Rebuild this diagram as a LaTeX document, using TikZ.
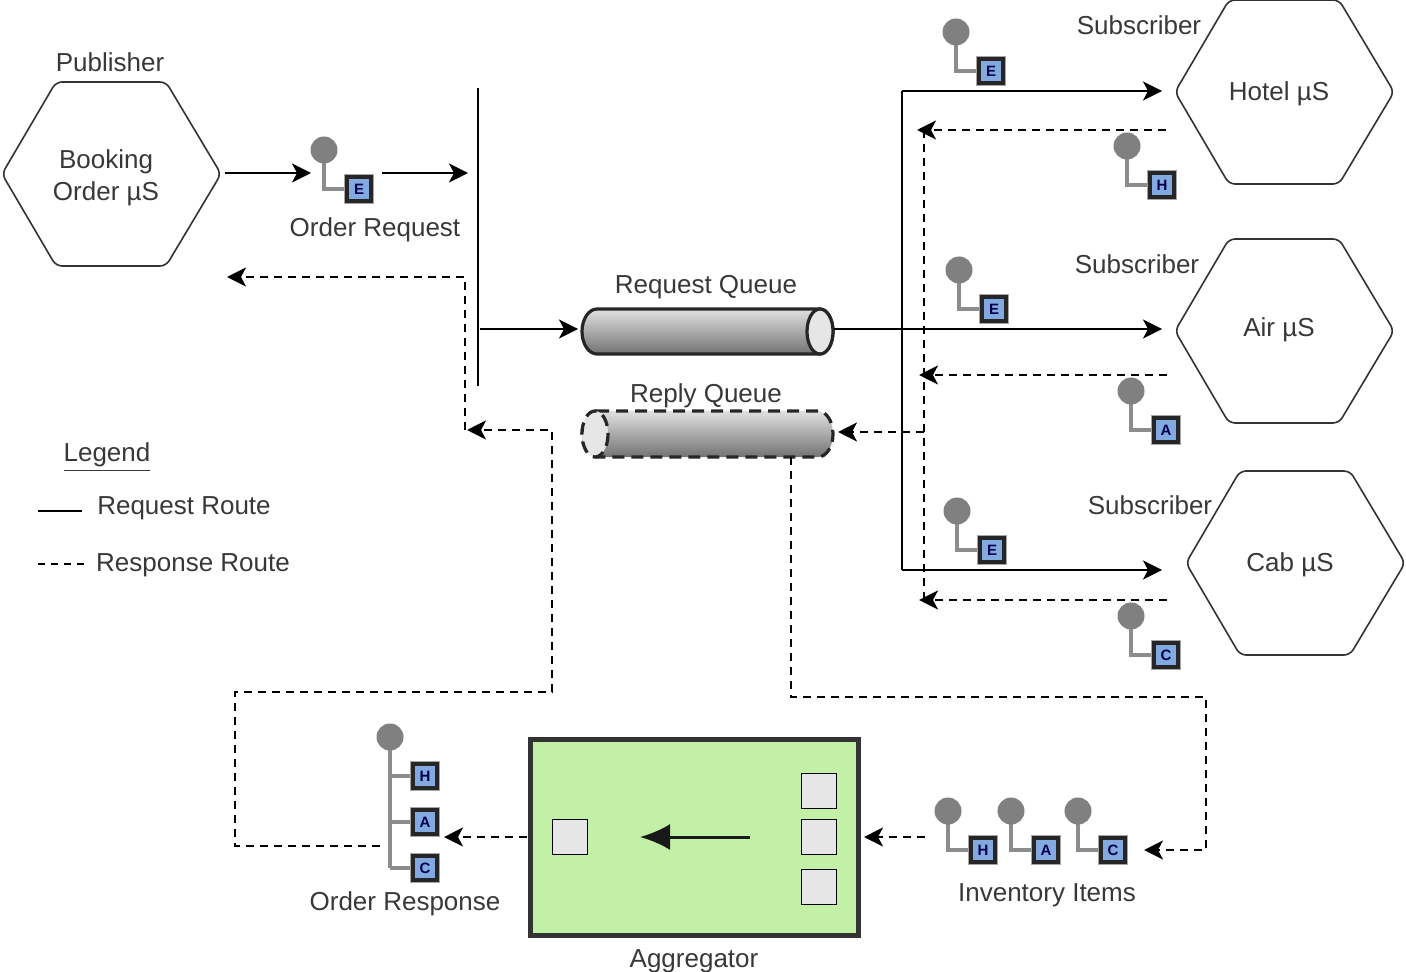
\documentclass[tikz,border=0pt]{standalone}
\usepackage{fontspec}
\setmainfont{Liberation Sans}
\usepackage{tikz}
\usetikzlibrary{arrows.meta}
\usepackage{xcolor}
\colorlet{mytext}{black!78}
\colorlet{myline}{black!85}
\colorlet{mygrey}{black!50}
\definecolor{myblue}{RGB}{130,170,225}
\definecolor{mygreen}{RGB}{193,240,166}
\definecolor{mylight}{RGB}{230,230,230}
\tikzset{
  >={Stealth[length=9.5pt,width=9.5pt,inset=2.5pt]},
  label/.style={text=mytext,font=\fontsize{13}{16}\selectfont,align=center,inner sep=0,yshift=-1.5pt},
  hexa/.style={draw=black!80,line width=0.8pt,fill=white,rounded corners=3pt},
  route/.style={draw=black,line width=0.9pt},
  route arrow/.style={route,->},
  reply/.style={draw=black,line width=0.7pt,dash pattern=on 4pt off 3pt},
  reply arrow/.style={reply,->},
  token dot/.style={circle,fill=mygrey,inner sep=0,minimum size=13.5pt},
  token box/.style={rectangle,draw=black!85,line width=1.7pt,fill=myblue,minimum size=12pt,inner sep=0,
    text=black!70!blue,font=\fontsize{7.5}{8}\bfseries\selectfont,
    preaction={draw=mygrey!70,line width=3pt}},
  token line/.style={draw=black!45,line width=1.7pt},
  slot/.style={rectangle,draw=black,line width=0.8pt,fill=mylight,minimum size=17.5pt,inner sep=0},
  spot/.style={rectangle,inner sep=0,minimum width=125pt,minimum height=23pt},
  queue/.style={line width=1.6pt,draw=black!85}
}
\begin{document}
\begin{tikzpicture}[x=0.5pt, y=-0.5pt]

\useasboundingbox (0,0) rectangle (1406,972);

% Hexagons
\foreach \x/\y in {111/174, 1284/92, 1284/331, 1295/563}
  \draw[hexa] (\x-109,\y) -- ++(54,-92) -- ++(110,0) -- ++(55,92) -- ++(-55,92) -- ++(-110,0) -- cycle;

\node[label] (booking) at (106,175) {Booking\\Order µS};
\node[label] (hotel) at (1279,91) {Hotel µS};
\node[label] (air) at (1279,327) {Air µS};
\node[label] (cab) at (1290,562) {Cab µS};
\node[label] (publisher) at (110,59) {Publisher};
\node[label] (subhotel) at (1139,22) {Subscriber};
\node[label] (subair) at (1137,261) {Subscriber};
\node[label] (subcab) at (1150,502) {Subscriber};

% Single tokens
\foreach \n/\x/\y/\l in {order/324/150/E, hoteli/956/32/E, hotelo/1127/146/H, airi/959/270/E,
  airo/1131/391/A, cabi/957/511/E, cabo/1131/616/C, invh/948/811/H, inva/1011/811/A, invc/1078/811/C}
{
  \draw[token line] (\x,\y) |- (\x+35,\y+39);
  \node[token dot] (dot-\n) at (\x,\y) {};
  \node[token box] (box-\n) at (\x+35,\y+39) {\l};
}

% Order response token
\draw[token line] (390,737) -- (390,868);
\foreach \n/\y/\l in {h/776/H, a/822/A, c/868/C}
{
  \draw[token line] (390,\y) -- (425,\y);
  \node[token box] (box-\n) at (425,\y) {\l};
}
\node[token dot] (dot-resp) at (390,737) {};

\node[label] (orderreq) at (375,227) {Order Request};
\node[label] (orderresp) at (405,901) {Order Response};
\node[label] (items) at (1047,892) {Inventory Items};

% Queues
\draw[queue,top color=black!12,bottom color=black!55]
  (597,309) -- (820,309) arc[start angle=-90,end angle=90,x radius=13,y radius=22.5]
  -- (597,354) arc[start angle=90,end angle=270,x radius=15,y radius=22.5] -- cycle;
\draw[queue,fill=mylight] (820,331.5) ellipse[x radius=13,y radius=22.5];
\node[spot] (reqq) at (707.5,331.5) {};

\draw[queue,dash pattern=on 6pt off 3.5pt,top color=black!12,bottom color=black!55]
  (597,411) -- (818,411) arc[start angle=-90,end angle=90,x radius=15,y radius=23]
  -- (597,457) arc[start angle=90,end angle=270,x radius=15,y radius=23] -- cycle;
\draw[queue,dash pattern=on 6pt off 3.5pt,fill=mylight] (595,434) ellipse[x radius=13,y radius=23];
\node[spot] (repq) at (707.5,434) {};

\node[label] at (706,284) {Request Queue};
\node[label] at (706,393) {Reply Queue};

% Aggregator
\node[rectangle,draw=black!80,line width=2.2pt,fill=mygreen,minimum width=164pt,minimum height=98pt,inner sep=0] (agg) at (694.5,837.5) {};
\node[slot] (slot-out) at (570,837) {};
\node[slot] (slot-a) at (819,791) {};
\node[slot] (slot-b) at (819,837) {};
\node[slot] (slot-c) at (819,887) {};
\coordinate (agg-from) at (750,837);
\coordinate (agg-to) at (640,837);
\draw[-{Latex[length=15pt,width=13pt]},line width=1.5pt,black!90] (agg-from) -- (agg-to);
\node[label] at (694,958) {Aggregator};

% Channel
\coordinate (top-ch) at (478,88);
\coordinate (bot-ch) at (478,386);
\draw[route] (top-ch) -- (bot-ch);

% Request routes
\coordinate (pub-out) at (225,173);
\coordinate (tok-in) at (311,173);
\coordinate (tok-out) at (382,173);
\coordinate (ch-in) at (468,173);
\coordinate (ch-out) at (480,329);
\coordinate (q-in) at (578,329);
\coordinate (q-out) at (834,329);
\coordinate (to-air) at (1162,329);
\coordinate (to-hotel) at (1162,91);
\coordinate (to-cab) at (1162,570);
\coordinate (fan-top) at (902,91);
\coordinate (fan-bot) at (902,570);
\draw[route arrow] (pub-out) -- (tok-in);
\draw[route arrow] (tok-out) -- (ch-in);
\draw[route arrow] (ch-out) -- (q-in);
\draw[route arrow] (q-out) -- (to-air);
\draw[route arrow] (fan-top) -- (to-hotel);
\draw[route arrow] (fan-bot) -- (to-cab);
\draw[route] (fan-top) -- (fan-bot);

% Response routes
\coordinate (h-back) at (1166,130);
\coordinate (h-end) at (917,130);
\coordinate (a-back) at (1167,375);
\coordinate (a-end) at (919,375);
\coordinate (c-back) at (1167,600);
\coordinate (c-end) at (919,600);
\coordinate (col-top) at (924,130);
\coordinate (col-bot) at (924,600);
\coordinate (col-mid) at (924,432);
\coordinate (q-back) at (838,432);
\draw[reply arrow] (h-back) -- (h-end);
\draw[reply arrow] (a-back) -- (a-end);
\draw[reply arrow] (c-back) -- (c-end);
\draw[reply] (col-top) -- (col-bot);
\draw[reply arrow] (col-mid) -- (q-back);

\coordinate (q-down) at (791,457);
\coordinate (inv-in) at (1144,850);
\draw[reply arrow] (q-down) -- (791,697) -- (1206,697) -- (1206,850) -- (inv-in);
\coordinate (inv-out) at (925,837);
\coordinate (agg-in) at (864,837);
\draw[reply arrow] (inv-out) -- (agg-in);
\coordinate (agg-out) at (527,837);
\coordinate (resp-in) at (444,837);
\draw[reply arrow] (agg-out) -- (resp-in);

\coordinate (resp-out) at (380,846);
\coordinate (ch-back) at (467,430);
\draw[reply arrow] (resp-out) -- (235,846) -- (235,692) -- (552,692) -- (552,430) -- (ch-back);
\coordinate (pub-back) at (227,277);
\draw[reply arrow] (465,430) -- (465,277) -- (pub-back);

% Legend
\node[label] (legend) at (107,454) {\underline{Legend}};
\coordinate (leg-a) at (38,511);
\coordinate (leg-b) at (82,511);
\coordinate (leg-c) at (38,564);
\coordinate (leg-d) at (84,564);
\draw[draw=black,line width=0.7pt] (leg-a) -- (leg-b);
\draw[draw=black,line width=0.6pt,dash pattern=on 3.5pt off 3pt] (leg-c) -- (leg-d);
\node[label] (legreq) at (184,505) {Request Route};
\node[label] (legresp) at (193,562) {Response Route};

\end{tikzpicture}
\end{document}
